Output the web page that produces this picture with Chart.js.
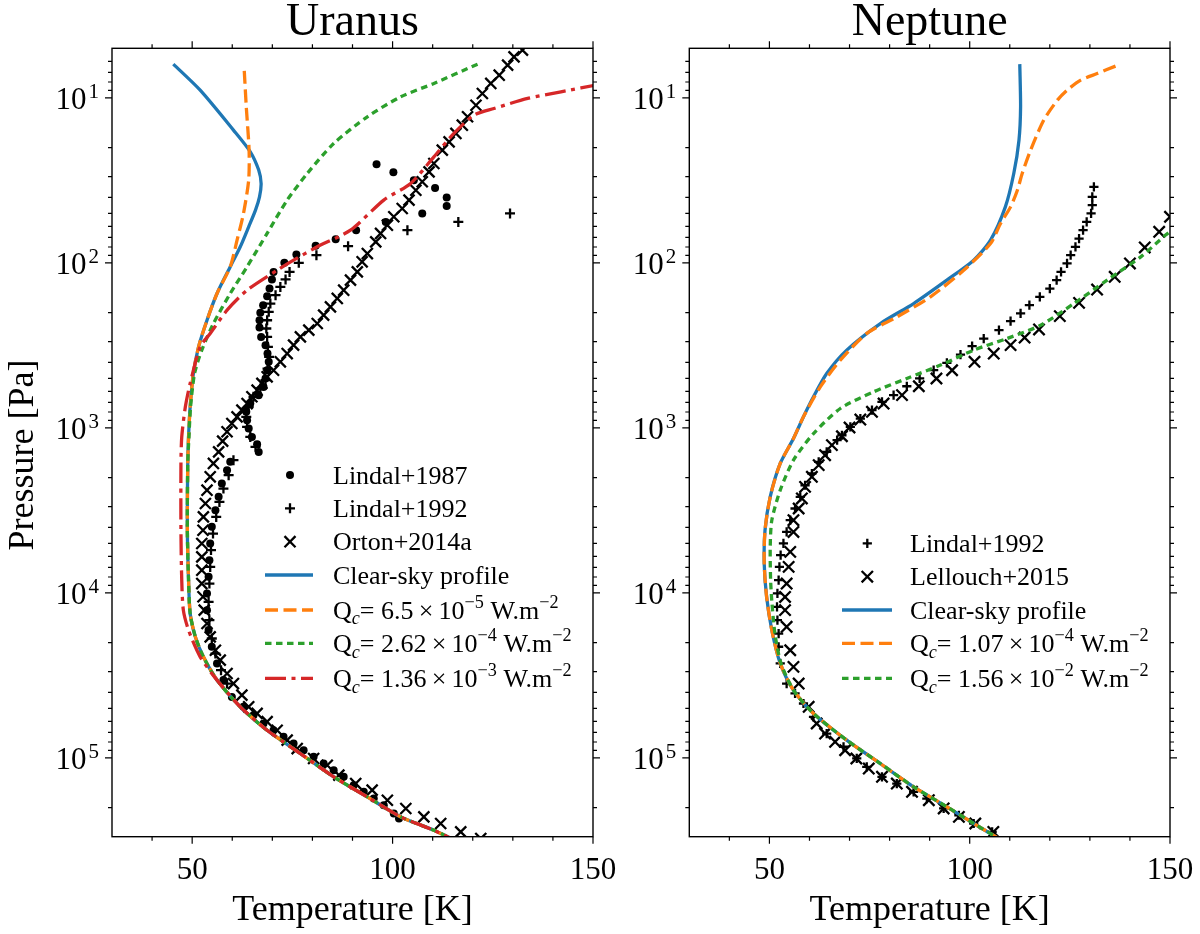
<!DOCTYPE html>
<html>
<head>
<meta charset="utf-8">
<title>Uranus / Neptune temperature profiles</title>
<script src="https://cdn.jsdelivr.net/npm/chart.js@4.4.1/dist/chart.umd.min.js"></script>
<style>
  html, body { margin: 0; padding: 0; background: #fff; }
  #wrap { position: relative; width: 1200px; height: 934px; }
  #wrap canvas { position: absolute; top: 0; }
  #uranus { left: 0; }
  #neptune { left: 600px; }
</style>
</head>
<body>
<div id="wrap">
  <canvas id="uranus" width="640" height="934"></canvas>
  <canvas id="neptune" width="600" height="934"></canvas>
</div>
<script>
// ===== Data: temperature [K] and log10(pressure [Pa]) =====

// --- Uranus models ---
const uClearT = [45.3, 52.0, 60.3, 64.5, 66.6, 67.2, 66.8, 65.8, 64.1, 62.0, 59.5, 56.2, 53.7, 51.6, 50.3, 49.5, 49.1, 48.9, 48.8, 49.1, 49.5, 50.8, 52.8, 56.2, 62.0, 68.7, 77.0, 85.3, 93.7, 102.0, 110.3, 114.1];
const uClearLogP = [0.795, 0.953, 1.195, 1.326, 1.437, 1.518, 1.599, 1.680, 1.781, 1.902, 2.023, 2.185, 2.347, 2.508, 2.670, 2.872, 3.054, 3.215, 3.620, 3.922, 4.124, 4.266, 4.387, 4.528, 4.690, 4.832, 4.973, 5.114, 5.236, 5.357, 5.438, 5.482];

const uQ1T = [63.0, 63.5, 64.2, 64.1, 62.8, 61.2, 59.5, 56.2, 53.7, 51.6, 50.3, 49.5, 49.1, 48.9, 48.8, 49.1, 49.5, 50.8, 52.8, 56.2, 62.0, 68.7, 77.0, 85.3, 93.7, 102.0, 110.3, 114.1];
const uQ1LogP = [0.836, 1.054, 1.316, 1.498, 1.700, 1.862, 2.023, 2.185, 2.347, 2.508, 2.670, 2.872, 3.054, 3.215, 3.620, 3.922, 4.124, 4.266, 4.387, 4.528, 4.690, 4.832, 4.973, 5.114, 5.236, 5.357, 5.438, 5.482];

const uQ2T = [121.2, 110.3, 102.0, 93.7, 85.3, 78.7, 73.7, 68.7, 63.7, 59.5, 55.3, 52.4, 50.6, 49.6, 49.2, 48.9, 48.8, 49.1, 49.5, 50.8, 52.8, 56.2, 62.0, 68.7, 77.0, 85.3, 93.7, 102.0, 110.3, 114.1];
const uQ2LogP = [0.795, 0.912, 0.993, 1.114, 1.276, 1.458, 1.619, 1.821, 2.023, 2.185, 2.367, 2.528, 2.670, 2.872, 3.054, 3.215, 3.620, 3.922, 4.124, 4.266, 4.387, 4.528, 4.690, 4.832, 4.973, 5.114, 5.236, 5.357, 5.438, 5.482];

const uQ3T = [152.0, 142.0, 133.7, 125.3, 120.3, 115.3, 110.3, 104.5, 97.8, 89.5, 81.2, 75.3, 71.2, 63.7, 58.7, 54.5, 52.0, 49.5, 48.3, 47.4, 47.2, 47.2, 47.4, 47.8, 49.1, 52.0, 56.2, 62.0, 68.7, 77.0, 85.3, 93.7, 102.0, 110.3, 114.1];
const uQ3LogP = [0.916, 0.963, 1.003, 1.064, 1.104, 1.215, 1.357, 1.518, 1.619, 1.801, 1.902, 1.983, 2.044, 2.165, 2.286, 2.427, 2.508, 2.730, 2.872, 3.054, 3.215, 3.620, 3.922, 4.104, 4.226, 4.387, 4.528, 4.690, 4.832, 4.973, 5.114, 5.236, 5.357, 5.438, 5.482];

// --- Uranus observations ---
const uLindal87T = [96.0, 100.2, 105.3, 110.6, 113.5, 113.5, 107.4, 98.3, 90.9, 85.8, 80.8, 76.0, 73.0, 70.3, 69.9, 69.3, 68.7, 67.7, 67.0, 66.8, 66.8, 67.2, 68.3, 68.8, 69.1, 68.7, 68.3, 67.8, 66.6, 64.5, 63.5, 63.7, 64.1, 64.9, 66.2, 66.6, 59.5, 58.7, 57.4, 56.6, 55.8, 54.9, 54.5, 54.3, 54.1, 53.7, 53.7, 54.1, 54.9, 56.2, 57.8, 59.9, 62.8, 65.3, 67.8, 70.3, 72.8, 75.3, 77.8, 80.3, 82.8, 85.3, 87.8, 90.3, 92.8, 95.3, 97.8, 100.3, 101.6];
const uLindal87LogP = [1.401, 1.450, 1.498, 1.545, 1.603, 1.654, 1.700, 1.751, 1.801, 1.856, 1.896, 1.949, 1.999, 2.054, 2.100, 2.155, 2.201, 2.256, 2.302, 2.347, 2.391, 2.448, 2.498, 2.549, 2.599, 2.650, 2.700, 2.751, 2.801, 2.852, 2.902, 2.953, 3.003, 3.054, 3.098, 3.145, 3.205, 3.256, 3.337, 3.417, 3.498, 3.599, 3.700, 3.801, 3.902, 4.003, 4.104, 4.225, 4.326, 4.427, 4.528, 4.630, 4.690, 4.741, 4.791, 4.832, 4.872, 4.912, 4.953, 4.993, 5.033, 5.074, 5.114, 5.165, 5.205, 5.246, 5.286, 5.337, 5.367];

const uLindal92T = [129.3, 116.4, 103.7, 88.9, 81.0, 76.6, 74.3, 73.3, 72.0, 70.8, 69.5, 69.1, 68.7, 68.5, 68.7, 68.9, 69.2, 68.8, 68.3, 67.0, 65.3, 64.1, 63.5, 63.7, 64.5, 65.8, 60.3, 59.1, 57.8, 56.8, 56.0, 55.2, 54.7, 54.5, 54.3, 54.1, 54.3, 54.9, 55.8, 57.2, 58.7];
const uLindal92LogP = [1.700, 1.751, 1.801, 1.898, 1.953, 1.999, 2.054, 2.100, 2.145, 2.195, 2.246, 2.296, 2.347, 2.397, 2.448, 2.508, 2.569, 2.640, 2.710, 2.761, 2.811, 2.872, 2.933, 2.993, 3.054, 3.114, 3.195, 3.286, 3.367, 3.448, 3.539, 3.640, 3.740, 3.842, 3.943, 4.054, 4.165, 4.276, 4.367, 4.468, 4.549];

const uOrtonT = [132.4, 130.3, 128.7, 126.6, 124.5, 122.4, 120.8, 118.7, 117.4, 115.8, 114.1, 112.4, 110.3, 109.1, 107.4, 105.8, 104.1, 102.4, 100.3, 98.7, 97.0, 95.8, 93.7, 92.4, 91.2, 89.5, 87.8, 86.2, 84.5, 82.8, 81.2, 79.1, 77.0, 75.3, 73.7, 72.0, 70.3, 68.7, 67.4, 66.2, 64.9, 63.7, 62.4, 61.2, 59.9, 58.7, 57.6, 56.6, 55.3, 54.5, 53.7, 53.3, 52.8, 52.7, 52.4, 52.4, 52.4, 52.4, 52.7, 53.0, 53.7, 54.5, 55.8, 57.0, 58.7, 60.3, 62.4, 64.1, 66.2, 68.7, 71.2, 73.7, 76.2, 80.3, 83.7, 86.6, 90.8, 94.9, 98.7, 103.3, 107.8, 112.0, 117.0, 122.0];
const uOrtonLogP = [0.710, 0.751, 0.801, 0.862, 0.912, 0.973, 1.044, 1.114, 1.165, 1.215, 1.266, 1.316, 1.397, 1.448, 1.508, 1.559, 1.619, 1.670, 1.720, 1.771, 1.821, 1.872, 1.943, 1.993, 2.054, 2.104, 2.165, 2.215, 2.266, 2.316, 2.367, 2.407, 2.448, 2.498, 2.549, 2.599, 2.650, 2.690, 2.730, 2.771, 2.811, 2.852, 2.892, 2.933, 2.973, 3.023, 3.080, 3.145, 3.215, 3.296, 3.377, 3.458, 3.539, 3.620, 3.700, 3.781, 3.862, 3.943, 4.023, 4.104, 4.185, 4.266, 4.347, 4.407, 4.488, 4.549, 4.619, 4.690, 4.730, 4.780, 4.832, 4.892, 4.943, 5.003, 5.044, 5.104, 5.155, 5.195, 5.256, 5.306, 5.357, 5.397, 5.448, 5.488];

// --- Neptune models ---
const nClearT = [112.5, 112.7, 112.3, 111.0, 108.9, 105.2, 101.0, 94.3, 86.0, 77.7, 69.3, 64.3, 61.0, 58.5, 56.0, 52.7, 50.2, 48.9, 48.7, 49.3, 50.6, 52.7, 56.0, 61.0, 69.3, 77.7, 86.0, 94.3, 101.0, 106.8];
const nClearLogP = [0.795, 1.054, 1.256, 1.458, 1.660, 1.862, 1.983, 2.104, 2.246, 2.367, 2.528, 2.670, 2.811, 2.932, 3.064, 3.215, 3.417, 3.620, 3.821, 4.023, 4.226, 4.427, 4.589, 4.730, 4.892, 5.034, 5.175, 5.296, 5.397, 5.482];

const nQ1T = [136.4, 131.8, 127.7, 124.3, 121.9, 118.5, 115.2, 113.1, 111.9, 110.2, 107.7, 105.2, 98.5, 90.2, 81.9, 74.3, 67.7, 62.7, 58.5, 56.0, 52.7, 50.2, 48.9, 48.7, 49.3, 50.6, 52.7, 56.0, 61.0, 69.3, 77.7, 86.0, 94.3, 101.0, 106.8];
const nQ1LogP = [0.807, 0.852, 0.892, 0.953, 1.013, 1.134, 1.316, 1.458, 1.559, 1.660, 1.761, 1.882, 2.044, 2.205, 2.326, 2.427, 2.589, 2.751, 2.932, 3.064, 3.215, 3.417, 3.620, 3.821, 4.023, 4.226, 4.427, 4.589, 4.730, 4.892, 5.034, 5.175, 5.296, 5.397, 5.482];

const nQ2T = [151.9, 148.9, 142.7, 134.3, 126.0, 117.7, 109.3, 101.0, 92.7, 84.3, 76.0, 67.7, 61.0, 56.0, 52.7, 50.6, 50.2, 50.3, 50.6, 51.4, 52.9, 56.0, 61.0, 69.3, 77.7, 86.0, 94.3, 101.0, 106.8];
const nQ2LogP = [1.781, 1.831, 1.963, 2.104, 2.246, 2.377, 2.458, 2.528, 2.619, 2.700, 2.781, 2.882, 3.034, 3.195, 3.377, 3.559, 3.720, 3.922, 4.050, 4.250, 4.427, 4.589, 4.730, 4.892, 5.034, 5.175, 5.296, 5.397, 5.482];

// --- Neptune observations ---
const nLindal92T = [131.0, 130.6, 130.6, 130.3, 129.2, 128.3, 127.3, 126.4, 125.2, 124.3, 122.8, 121.7, 120.0, 117.5, 114.9, 112.7, 110.2, 107.3, 103.5, 100.6, 97.7, 94.3, 91.0, 87.5, 84.3, 81.0, 78.1, 75.6, 72.7, 70.2, 68.1, 66.9, 64.3, 62.3, 60.6, 58.9, 57.7, 56.4, 55.2, 54.3, 53.5, 52.8, 52.5, 52.3, 52.0, 51.9, 52.0, 52.3, 52.3, 52.7, 54.3, 56.4, 58.5, 61.0, 64.3, 68.5, 71.8, 74.3, 78.1, 81.8, 86.0, 89.3, 93.5, 97.3, 101.0, 105.6];
const nLindal92LogP = [1.539, 1.599, 1.650, 1.700, 1.751, 1.801, 1.852, 1.902, 1.953, 2.003, 2.054, 2.104, 2.155, 2.205, 2.256, 2.306, 2.353, 2.407, 2.458, 2.504, 2.555, 2.605, 2.650, 2.700, 2.747, 2.801, 2.842, 2.892, 2.943, 2.993, 3.044, 3.074, 3.145, 3.205, 3.276, 3.347, 3.417, 3.488, 3.559, 3.630, 3.700, 3.771, 3.842, 3.922, 4.003, 4.084, 4.165, 4.246, 4.326, 4.427, 4.549, 4.609, 4.670, 4.751, 4.852, 4.932, 5.003, 5.054, 5.114, 5.155, 5.205, 5.246, 5.306, 5.347, 5.397, 5.448];

const nLellouchT = [150.0, 147.3, 143.7, 140.0, 136.2, 131.8, 127.3, 122.5, 117.3, 113.7, 110.2, 106.0, 101.2, 95.6, 91.7, 87.3, 83.1, 78.5, 75.6, 72.7, 70.0, 68.1, 65.6, 63.9, 62.3, 60.6, 58.9, 58.1, 57.3, 56.0, 56.0, 55.2, 54.8, 54.3, 53.9, 53.9, 54.3, 55.2, 56.0, 57.3, 59.8, 61.8, 63.9, 66.4, 68.9, 71.7, 74.8, 78.1, 81.8, 85.6, 89.8, 93.5, 97.3, 101.4, 105.9];
const nLellouchLogP = [1.720, 1.811, 1.906, 2.003, 2.084, 2.161, 2.242, 2.322, 2.403, 2.452, 2.498, 2.549, 2.599, 2.650, 2.700, 2.747, 2.801, 2.852, 2.902, 2.949, 2.997, 3.050, 3.104, 3.165, 3.225, 3.296, 3.357, 3.427, 3.488, 3.559, 3.630, 3.751, 3.842, 3.943, 4.024, 4.104, 4.205, 4.347, 4.448, 4.549, 4.690, 4.791, 4.852, 4.902, 4.953, 5.003, 5.064, 5.114, 5.155, 5.205, 5.256, 5.306, 5.357, 5.397, 5.448];

// ===== Axis ticks =====
const xMajorTicks = [50, 100, 150];
const xMinorTicks = [40, 60, 70, 80, 90, 110, 120, 130, 140];
const yMajorExponents = [1, 2, 3, 4, 5];
const yMinorMantissas = [2, 3, 4, 5, 6, 7, 8, 9];
const yMinorDecades = [0, 1, 2, 3, 4, 5];

// ===== Styles =====
const SERIF = '"Liberation Serif", "DejaVu Serif", serif';
const BLUE = '#1f77b4', ORANGE = '#ff7f0e', GREEN = '#2ca02c', RED = '#d62728';

const toPts = (t, lp) => t.map((v, i) => ({ x: v, y: Math.pow(10, lp[i]) }));

function lineSet(label, t, lp, color, dash, order) {
  return {
    label, data: toPts(t, lp), showLine: true,
    borderColor: color, backgroundColor: color, borderWidth: 3.3, borderDash: dash,
    pointRadius: 0, tension: 0.25, order, clip: 0
  };
}

function markSet(label, t, lp, style, radius, order) {
  return {
    label, data: toPts(t, lp), showLine: false,
    pointStyle: style, pointRadius: radius,
    borderColor: '#000', backgroundColor: '#000',
    pointBorderColor: '#000', pointBackgroundColor: '#000',
    borderWidth: style === 'circle' ? 0 : 2.3, pointBorderWidth: style === 'circle' ? 0 : 2.3,
    order, clip: 0
  };
}

// ===== Helpers for drawing =====
function drawMarker(ctx, style, x, y, r) {
  ctx.beginPath();
  if (style === 'circle') {
    ctx.arc(x, y, r, 0, Math.PI * 2);
    ctx.fill();
    return;
  }
  const d = style === 'crossRot' ? r * Math.SQRT1_2 : r;
  if (style === 'cross') {
    ctx.moveTo(x - d, y); ctx.lineTo(x + d, y);
    ctx.moveTo(x, y - d); ctx.lineTo(x, y + d);
  } else {
    ctx.moveTo(x - d, y - d); ctx.lineTo(x + d, y + d);
    ctx.moveTo(x - d, y + d); ctx.lineTo(x + d, y - d);
  }
  ctx.lineWidth = 2.3;
  ctx.stroke();
}

// text with _{sub} and ^{sup} runs
function richText(ctx, str, x, y, size) {
  const parts = str.split(/(_\{[^}]*\}|\^\{[^}]*\})/).filter(Boolean);
  let cx = x;
  for (const p of parts) {
    let txt = p, font = `${size}px ${SERIF}`, dy = 0;
    if (p[0] === '_') { txt = p.slice(2, -1); font = `italic ${size * 0.7}px ${SERIF}`; dy = size * 0.22; }
    else if (p[0] === '^') { txt = p.slice(2, -1); font = `${size * 0.7}px ${SERIF}`; dy = -size * 0.4; }
    ctx.font = font;
    ctx.fillText(txt, cx, y + dy);
    cx += ctx.measureText(txt).width;
  }
  return cx - x;
}

// ===== Frame, ticks, labels and legend =====
const frame = {
  id: 'frame',
  afterDatasetsDraw(chart, _args, o) {
    const { ctx, chartArea: a } = chart;
    const sx = chart.scales.x, sy = chart.scales.y;
    ctx.save();
    ctx.fillStyle = '#000';
    ctx.strokeStyle = '#000';
    ctx.setLineDash([]);

    // spines
    ctx.lineWidth = 1.4;
    ctx.strokeRect(a.left, a.top, a.right - a.left, a.bottom - a.top);

    // ticks (outward, all four sides)
    ctx.lineWidth = 1.2;
    ctx.beginPath();
    const xTick = (v, len) => {
      const p = sx.getPixelForValue(v);
      ctx.moveTo(p, a.bottom); ctx.lineTo(p, a.bottom + len);
      ctx.moveTo(p, a.top); ctx.lineTo(p, a.top - len);
    };
    const yTick = (v, len) => {
      const p = sy.getPixelForValue(v);
      ctx.moveTo(a.left - len, p); ctx.lineTo(a.left, p);
      ctx.moveTo(a.right, p); ctx.lineTo(a.right + len, p);
    };
    xMajorTicks.forEach(v => xTick(v, 7));
    xMinorTicks.forEach(v => xTick(v, 4));
    yMajorExponents.forEach(e => yTick(Math.pow(10, e), 7));
    yMinorDecades.forEach(d => yMinorMantissas.forEach(m => {
      const v = m * Math.pow(10, d);
      if (v > 5 && v < 3e5) yTick(v, 4);
    }));
    ctx.stroke();

    // x tick labels
    ctx.font = `31px ${SERIF}`;
    ctx.textAlign = 'center';
    ctx.textBaseline = 'alphabetic';
    xMajorTicks.forEach(v => ctx.fillText(String(v), sx.getPixelForValue(v), a.bottom + 42));

    // y tick labels: 10 with superscript exponent
    ctx.textAlign = 'left';
    yMajorExponents.forEach(e => {
      const p = sy.getPixelForValue(Math.pow(10, e));
      ctx.font = `31px ${SERIF}`;
      const wBase = ctx.measureText('10').width;
      ctx.font = `21px ${SERIF}`;
      const wSup = ctx.measureText(String(e)).width;
      const x0 = a.left - 13 - wSup - 2 - wBase;
      ctx.font = `31px ${SERIF}`;
      ctx.fillText('10', x0, p + 11);
      ctx.font = `21px ${SERIF}`;
      ctx.fillText(String(e), x0 + wBase + 2, p);
    });

    // title and axis labels
    const cx = (a.left + a.right) / 2;
    ctx.textAlign = 'center';
    ctx.font = `46px ${SERIF}`;
    ctx.fillText(o.title, cx, 35);
    ctx.font = `36px ${SERIF}`;
    ctx.fillText('Temperature [K]', cx, 920);
    if (o.yLabel) {
      ctx.save();
      ctx.translate(33, 455);
      ctx.rotate(-Math.PI / 2);
      ctx.fillText('Pressure [Pa]', 0, 0);
      ctx.restore();
    }

    // legend
    const L = o.legend;
    ctx.textAlign = 'left';
    chart.data.datasets.forEach((ds, i) => {
      const y = L.rows[i];
      if (ds.showLine) {
        ctx.save();
        ctx.strokeStyle = ds.borderColor;
        ctx.lineWidth = ds.borderWidth;
        ctx.setLineDash(ds.borderDash || []);
        ctx.beginPath();
        ctx.moveTo(L.lineX0, y);
        ctx.lineTo(L.lineX1, y);
        ctx.stroke();
        ctx.restore();
      } else {
        drawMarker(ctx, ds.pointStyle, L.markX, y, ds.pointRadius);
      }
      ctx.fillStyle = '#000';
      richText(ctx, ds.label, L.textX, y + 8.5, 26);
    });

    ctx.restore();
  }
};

function makePanel(id, datasets, padding, opts) {
  return new Chart(document.getElementById(id), {
    type: 'scatter',
    data: { datasets },
    options: {
      responsive: false,
      animation: false,
      events: [],
      layout: { padding },
      scales: {
        x: { type: 'linear', min: 30, max: 150, display: false },
        y: { type: 'logarithmic', min: 5, max: 3e5, reverse: true, display: false }
      },
      plugins: { legend: { display: false }, tooltip: { enabled: false }, frame: opts }
    },
    plugins: [frame]
  });
}

// ===== Uranus =====
makePanel('uranus', [
  markSet('Lindal+1987', uLindal87T, uLindal87LogP, 'circle', 4, 10),
  markSet('Lindal+1992', uLindal92T, uLindal92LogP, 'cross', 5, 9),
  markSet('Orton+2014a', uOrtonT, uOrtonLogP, 'crossRot', 7.8, 8),
  lineSet('Clear-sky profile', uClearT, uClearLogP, BLUE, [], 4),
  lineSet('Q_{c}= 6.5\u2009×\u200910^{\u22125} W.m^{\u22122}', uQ1T, uQ1LogP, ORANGE, [13, 5.5], 3),
  lineSet('Q_{c}= 2.62\u2009×\u200910^{\u22124} W.m^{\u22122}', uQ2T, uQ2LogP, GREEN, [6.5, 4.5], 2),
  lineSet('Q_{c}= 1.36\u2009×\u200910^{\u22123} W.m^{\u22122}', uQ3T, uQ3LogP, RED, [21, 5.5, 4, 5.5], 1)
], { left: 112, top: 48.3, right: 47, bottom: 97.3 }, {
  title: 'Uranus', yLabel: true,
  legend: { markX: 290, lineX0: 265, lineX1: 313, textX: 333, rows: [475, 508.3, 541.7, 575, 610, 643.3, 678.3] }
});

// ===== Neptune =====
makePanel('neptune', [
  markSet('Lindal+1992', nLindal92T, nLindal92LogP, 'cross', 4.6, 9),
  markSet('Lellouch+2015', nLellouchT, nLellouchLogP, 'crossRot', 8, 8),
  lineSet('Clear-sky profile', nClearT, nClearLogP, BLUE, [], 4),
  lineSet('Q_{c}= 1.07\u2009×\u200910^{\u22124} W.m^{\u22122}', nQ1T, nQ1LogP, ORANGE, [13, 5.5], 3),
  lineSet('Q_{c}= 1.56\u2009×\u200910^{\u22122} W.m^{\u22122}', nQ2T, nQ2LogP, GREEN, [6.5, 4.5], 2)
], { left: 89.3, top: 48.3, right: 30, bottom: 97.3 }, {
  title: 'Neptune', yLabel: false,
  legend: { markX: 267.3, lineX0: 242, lineX1: 292, textX: 310, rows: [543.3, 576.7, 610, 643.3, 678.3] }
});
</script>
</body>
</html>
